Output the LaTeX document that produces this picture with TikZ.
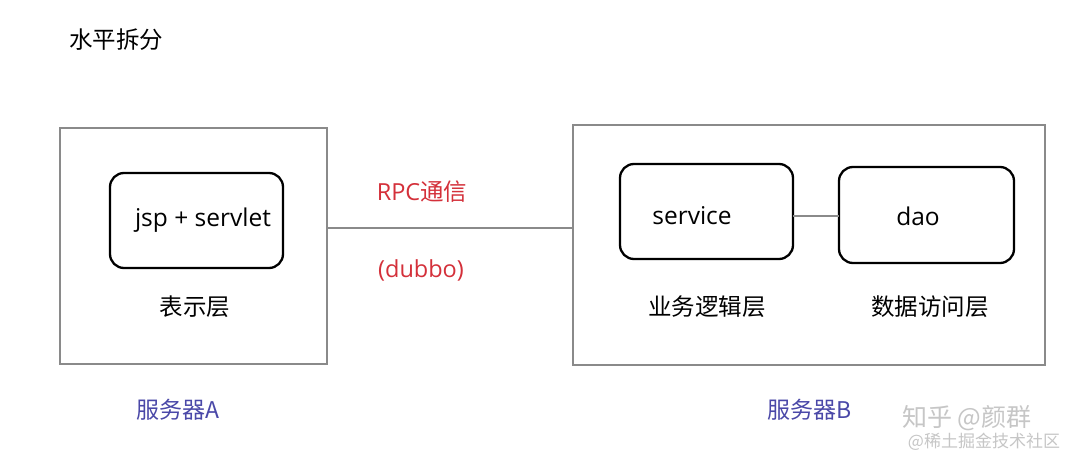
\documentclass[tikz,border=0pt]{standalone}
\usepackage{fontspec}
\setmainfont{Noto Sans CJK SC}
\newfontfamily\latinf{Open Sans}
\definecolor{redtxt}{HTML}{D4303A}
\definecolor{bluetxt}{HTML}{4A48A8}
\definecolor{boxgray}{HTML}{8A8A8A}
\begin{document}
\begin{tikzpicture}[x=1pt,y=-1pt,
  outerbox/.style={draw=boxgray, line width=2.6pt},
  innerbox/.style={draw=black, line width=2.3pt, rounded corners=14pt},
  conn/.style={draw=boxgray, line width=2.4pt},
  lbl/.style={font=\fontsize{23.5}{25}\selectfont, text=black, inner sep=0pt},
  latlbl/.style={font=\latinf\fontsize{24.5}{26}\selectfont, text=black, inner sep=0pt},
  redlbl/.style={font=\fontsize{23.5}{25}\selectfont, text=redtxt, inner sep=0pt},
  bluelbl/.style={font=\fontsize{23}{25}\selectfont, text=bluetxt, inner sep=0pt},
  wm/.style={text=gray!45, inner sep=0pt}]
\useasboundingbox (0,0) rectangle (1080,466);
\fill[white] (0,0) rectangle (1080,466);
\node[lbl] (title) at (116,40) {水平拆分};
% server A
\draw[outerbox] (60,128) rectangle (327,364);
\coordinate (Aright) at (327,228);
\draw[innerbox] (110,173) rectangle (283,268);
\node[latlbl] (jsp) at (203,220) {jsp + servlet};
\node[lbl] (pres) at (195,307) {表示层};
% server B
\draw[outerbox] (573,125) rectangle (1045,365);
\coordinate (Bleft) at (573,228);
\draw[innerbox] (620,164) rectangle (793,259);
\draw[innerbox] (839,167) rectangle (1014,263);
\coordinate (svcR) at (793,216);
\coordinate (daoL) at (839,216);
\node[latlbl] (svc) at (692,216) {service};
\node[latlbl] (dao) at (918,216) {dao};
\node[lbl] (biz) at (707,307) {业务逻辑层};
\node[lbl] (data) at (930,307) {数据访问层};
% connectors
\draw[conn] (Aright) -- (Bleft);
\draw[conn] (svcR) -- (daoL);
\node[redlbl] (rpc) at (422,192) {{\latinf RPC}通信};
\node[redlbl] (dubbo) at (421,270) {\latinf (dubbo)};
\node[bluelbl] (sa) at (178,410) {服务器A};
\node[bluelbl] (sb) at (810,410) {服务器B};
% watermark
\node[wm, font=\fontsize{25}{27}\selectfont] (wm1) at (967,418) {知乎 @颜群};
\node[wm, font=\fontsize{17}{19}\selectfont] (wm2) at (984,442) {@稀土掘金技术社区};
\end{tikzpicture}
\end{document}
